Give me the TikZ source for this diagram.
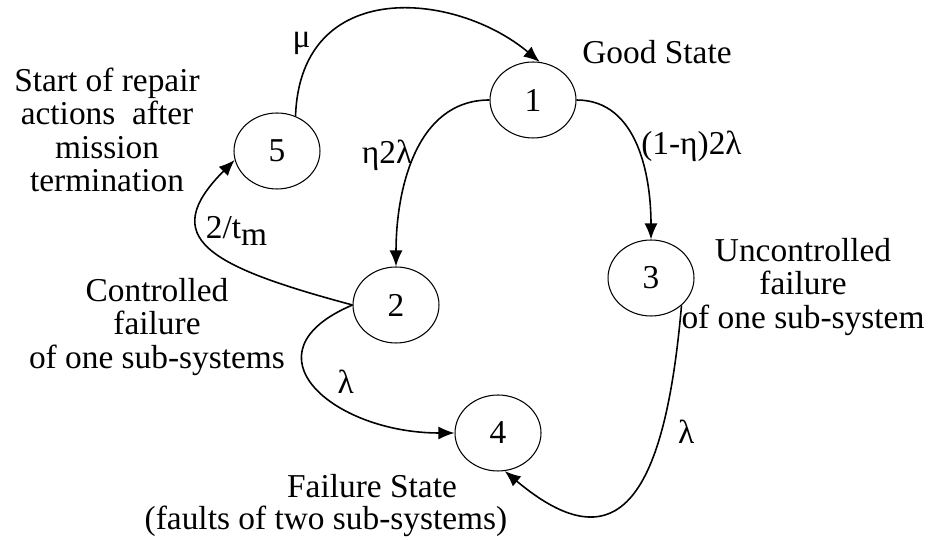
\documentclass[tikz,border=0pt]{standalone}
\usepackage{fontspec}
\setmainfont{Liberation Serif}
\usetikzlibrary{arrows.meta,shapes.geometric,positioning}

\begin{document}
\begin{tikzpicture}[x=0.02cm,y=0.02cm,>={Latex[length=3.2mm,width=2.6mm]},
   font=\fontsize{19}{19}\selectfont,
   st/.style={ellipse,draw,line width=0.6pt,minimum width=1.72cm,minimum height=1.52cm,inner sep=0pt},
   tr/.style={->,line width=0.9pt},
   txt/.style={align=center,inner sep=0pt}]
  \useasboundingbox (0,0) rectangle (942,540);
  % states
  \node[st] (s1) at (533,440) {1};
  \node[st] (s2) at (396,235) {2};
  \node[st] (s3) at (651,262) {3};
  \node[st] (s4) at (498,107) {4};
  \node[st] (s5) at (277,389) {5};
  % descriptions
  \node[txt] (d1) at (657,488) {Good State};
  \node[txt] (d5) at (107,410) {Start of repair\\actions~ after\\mission\\termination};
  \node[txt] (d3) at (803,253) {Uncontrolled\\failure\\of one sub-system};
  \node[txt] (d2) at (157,213) {Controlled\\failure\\of one sub-systems};
  \node[txt] (d4a) at (372,54) {Failure State};
  \node[txt] (d4b) at (326,19) {(faults of two sub-systems)};
  % transitions
  \draw[tr] (s5.62) to[out=88,in=140,out distance=2.8cm,in distance=2.2cm]
     node[pos=0.23,anchor=east,inner sep=5pt] (l51) {μ} (s1.80);
  \draw[tr] (s1.west) to[out=180,in=90]
     node[pos=0.5,anchor=east,inner sep=1pt] (l12) {η2λ} (s2.north);
  \draw[tr] (s1.east) to[out=0,in=90]
     node[pos=0.5,anchor=west,inner sep=2pt] (l13) {(1-η)2λ} (s3.north);
  \draw[tr] (s2.180) to[out=165,in=-135,out distance=3cm,in distance=2.2cm]
     node[pos=0.62,anchor=west,inner sep=3pt] (l25) {2/t\raisebox{-0.45ex}{m}} (s5.192);
  \draw[tr] (s2.180) to[out=203,in=180,looseness=1.9]
     node[pos=0.47,right=11pt] (l24) {λ} (s4.west);
  \draw[tr] (s3.-42) to[out=-95,in=-40,out distance=3.8cm,in distance=3cm]
     node[pos=0.27,anchor=west,xshift=6pt] (l34) {λ} (s4.-80);
\end{tikzpicture}
\end{document}
